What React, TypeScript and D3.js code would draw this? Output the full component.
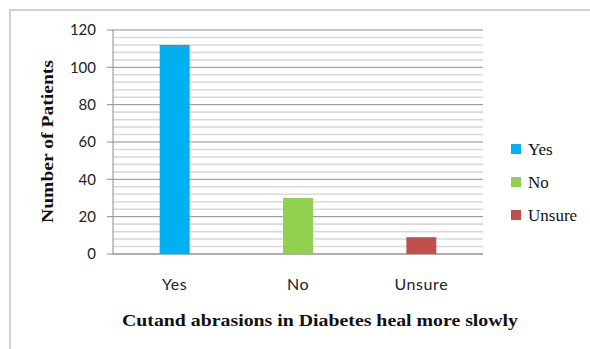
import React from "react";
import * as d3 from "d3";

// Responses to "Cut and abrasions in Diabetes heal more slowly"
const categories = ["Yes", "No", "Unsure"];
const patients = [112, 30, 9];
const colors = ["#00B0F0", "#92D050", "#C0504D"];
const yTicks = [0, 20, 40, 60, 80, 100, 120];
const minorTicks = d3.range(0, 121, 4).filter((v) => v % 20 !== 0);

const W = 590;
const H = 349;
const plot = { left: 113, right: 483, top: 30, bottom: 254 };

const sansFont = "Lato, 'Open Sans', sans-serif";
const serifFont = "'Liberation Serif', 'DejaVu Serif', serif";

export default function App() {
  const x = d3
    .scaleBand<string>()
    .domain(categories)
    .range([plot.left, plot.right])
    .paddingInner(0.757)
    .paddingOuter(0.3785);
  const y = d3.scaleLinear().domain([0, 120]).range([plot.bottom, plot.top]);

  return (
    <svg
      width={W}
      height={H}
      style={{ position: "absolute", left: 0, top: 0, background: "#fff" }}
    >
      {/* chart frame */}
      <rect x={10} y={10} width={W + 20} height={H + 20} fill="#fff" stroke="#d0d0d0" strokeWidth={2} />

      {/* minor gridlines */}
      {minorTicks.map((v) => (
        <line key={"m" + v} x1={plot.left} x2={plot.right} y1={y(v)} y2={y(v)} stroke="#d9d9d9" strokeWidth={1.6} />
      ))}
      {/* major gridlines */}
      {yTicks.map((v) => (
        <line key={"g" + v} x1={plot.left - 6} x2={plot.right} y1={y(v)} y2={y(v)} stroke="#8c8c8c" strokeWidth={1} />
      ))}
      {/* axis lines */}
      <line x1={plot.left} x2={plot.left} y1={plot.top} y2={plot.bottom} stroke="#8c8c8c" strokeWidth={1} />
      <line x1={plot.left} x2={plot.right} y1={plot.bottom} y2={plot.bottom} stroke="#a6a6a6" strokeWidth={1.5} />

      {/* y tick labels */}
      {yTicks.map((v) => (
        <text key={"t" + v} x={96} y={y(v)} dy="0.35em" textAnchor="end" fontFamily={sansFont} fontSize={15} fill="#222">
          {v}
        </text>
      ))}

      {/* bars */}
      {categories.map((c, i) => (
        <rect
          key={c}
          x={x(c)}
          y={y(patients[i])}
          width={x.bandwidth()}
          height={y(0) - y(patients[i])}
          fill={colors[i]}
        />
      ))}

      {/* category labels */}
      {categories.map((c) => (
        <text
          key={"c" + c}
          x={(x(c) ?? 0) + x.bandwidth() / 2}
          y={284}
          dy="0.35em"
          textAnchor="middle"
          fontFamily={sansFont}
          fontSize={16}
          letterSpacing={0.6}
          fill="#222"
        >
          {c}
        </text>
      ))}

      {/* axis titles */}
      <text
        transform={`translate(47,141.5) rotate(-90)`}
        dy="0.35em"
        textAnchor="middle"
        fontFamily={serifFont}
        fontWeight="bold"
        fontSize={17}
        textLength={163}
        lengthAdjust="spacingAndGlyphs"
        fill="#111"
      >
        Number of Patients
      </text>
      <text
        x={320}
        y={320}
        dy="0.35em"
        textAnchor="middle"
        fontFamily={serifFont}
        fontWeight="bold"
        fontSize={17}
        textLength={396}
        lengthAdjust="spacingAndGlyphs"
        fill="#111"
      >
        Cutand abrasions in Diabetes heal more slowly
      </text>

      {/* legend */}
      {categories.map((c, i) => (
        <g key={"l" + c} transform={`translate(511,${149 + i * 33})`}>
          <rect x={0} y={-5} width={10} height={10} fill={colors[i]} />
          <text x={17} y={0} dy="0.35em" fontFamily={serifFont} fontSize={17} fill="#111">
            {c}
          </text>
        </g>
      ))}
    </svg>
  );
}
